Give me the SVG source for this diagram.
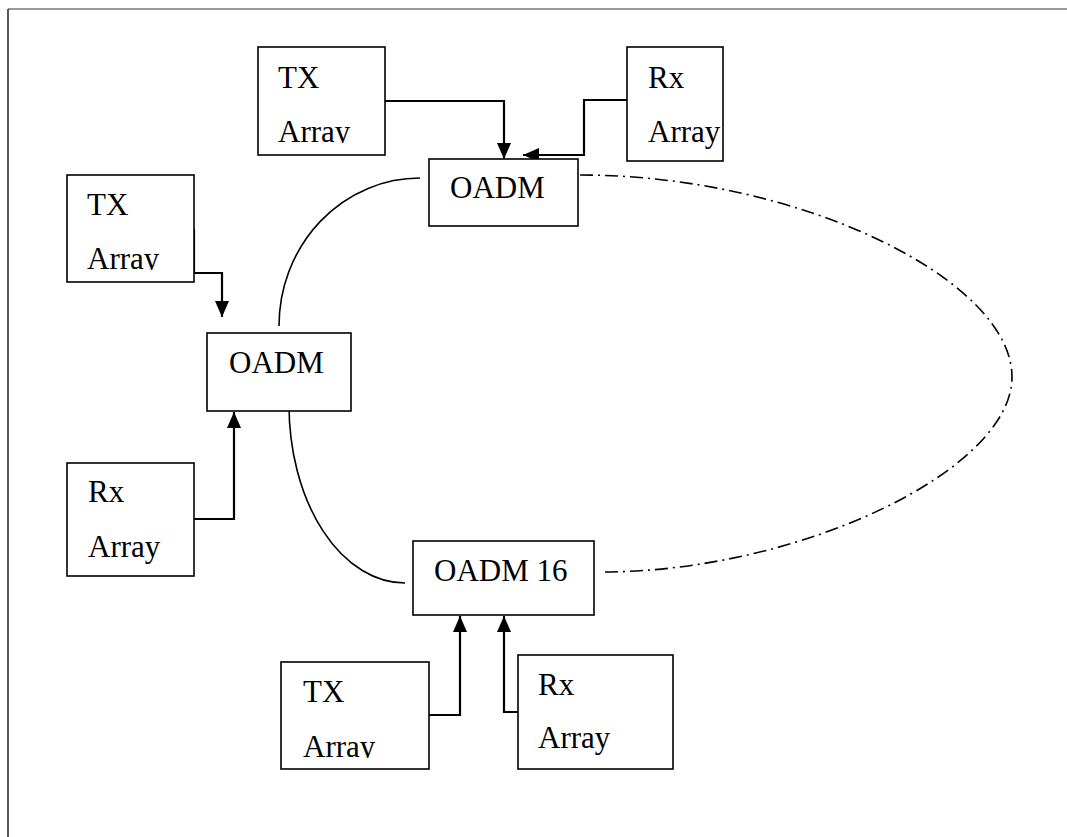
<svg xmlns="http://www.w3.org/2000/svg" width="1067" height="837" viewBox="0 0 1067 837">
<style>
.box{fill:#fff;stroke:#000;stroke-width:1.6}
.t{font-family:"Liberation Serif","Times New Roman",serif;font-size:31px;fill:#000}
.arr{fill:none;stroke:#000;stroke-width:2.2}
.ring{fill:none;stroke:#000;stroke-width:1.6}
.dd{fill:none;stroke:#000;stroke-width:1.6;stroke-dasharray:13 5 2 5}
</style>
<defs>
<marker id="ah" markerUnits="userSpaceOnUse" markerWidth="16" markerHeight="14" refX="16" refY="7" orient="auto">
<path d="M0,0 L16,7 L0,14 z" fill="#000"/>
</marker>
<clipPath id="c1"><rect x="258" y="47" width="127" height="96"/></clipPath>
<clipPath id="c2"><rect x="67" y="175" width="127" height="95"/></clipPath>
<clipPath id="c3"><rect x="281" y="662" width="148" height="96"/></clipPath>
</defs>
<rect width="1067" height="837" fill="#fff"/>
<g id="frame">
<line x1="8" y1="9" x2="1067" y2="9" stroke="#777" stroke-width="1.5"/>
<line x1="8" y1="9" x2="8" y2="837" stroke="#222" stroke-width="1.5"/>
</g>
<g id="connectors">
<path class="ring" d="M279,326 A141 148 0 0 1 420 178"/>
<path class="ring" d="M289,405 A116 178 0 0 0 405 583"/>
<path class="dd" d="M580,175 C800,175 1012,280 1012,377 C1012,470 800,572 601,572"/>
<path class="arr" d="M385,101 H504 V159" marker-end="url(#ah)"/>
<path class="arr" d="M645,100 H584 V155 H523" marker-end="url(#ah)"/>
<path class="arr" d="M194,229 V273 H222 V317" marker-end="url(#ah)"/>
<path class="arr" d="M194,519 H234 V412" marker-end="url(#ah)"/>
<path class="arr" d="M429,715 H460 V616" marker-end="url(#ah)"/>
<path class="arr" d="M518,712 H504 V616" marker-end="url(#ah)"/>
</g>
<g id="tx-top">
<rect class="box" x="258" y="47" width="127" height="108"/>
<g clip-path="url(#c1)"><text class="t" x="278" y="88">TX</text><text class="t" x="278" y="142">Array</text></g>
</g>
<g id="rx-top">
<rect class="box" x="627" y="47" width="96" height="114"/>
<text class="t" x="648" y="88">Rx</text><text class="t" x="648" y="142">Array</text>
</g>
<g id="oadm-top">
<rect class="box" x="429" y="159" width="149" height="67"/>
<text class="t" x="450" y="198">OADM</text>
</g>
<g id="tx-left">
<rect class="box" x="67" y="175" width="127" height="107"/>
<g clip-path="url(#c2)"><text class="t" x="87" y="215">TX</text><text class="t" x="87" y="269">Array</text></g>
</g>
<g id="oadm-left">
<rect class="box" x="207" y="333" width="144" height="78"/>
<text class="t" x="229" y="373">OADM</text>
</g>
<g id="rx-left">
<rect class="box" x="67" y="463" width="127" height="113"/>
<text class="t" x="88" y="502">Rx</text><text class="t" x="88" y="557">Array</text>
</g>
<g id="oadm-16">
<rect class="box" x="413" y="541" width="181" height="74"/>
<text class="t" x="434" y="581">OADM 16</text>
</g>
<g id="tx-bottom">
<rect class="box" x="281" y="662" width="148" height="107"/>
<g clip-path="url(#c3)"><text class="t" x="303" y="702">TX</text><text class="t" x="303" y="757">Array</text></g>
</g>
<g id="rx-bottom">
<rect class="box" x="518" y="655" width="155" height="114"/>
<text class="t" x="538" y="695">Rx</text><text class="t" x="538" y="748">Array</text>
</g>
</svg>
